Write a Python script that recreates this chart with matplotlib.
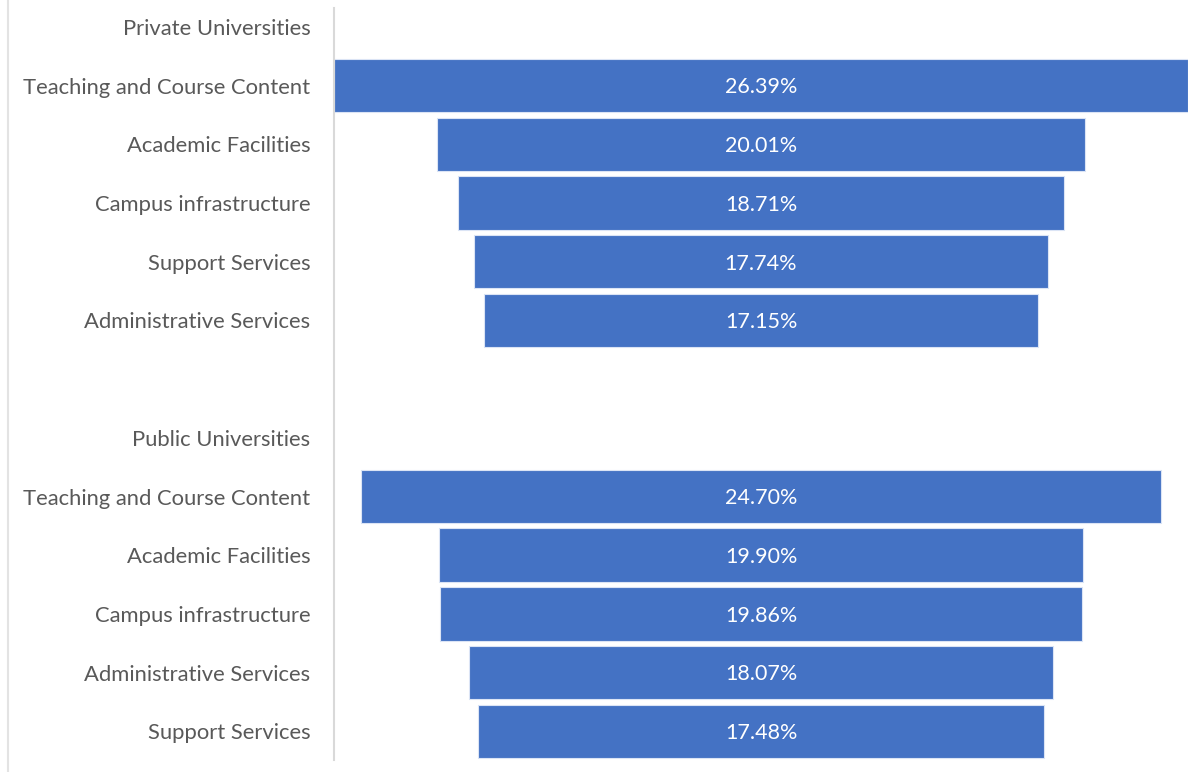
import matplotlib.pyplot as plt
from matplotlib.lines import Line2D

# rows from top to bottom, None = no bar
labels = ["Private Universities",
          "Teaching and Course Content", "Academic Facilities", "Campus infrastructure",
          "Support Services", "Administrative Services",
          "",
          "Public Universities",
          "Teaching and Course Content", "Academic Facilities", "Campus infrastructure",
          "Administrative Services", "Support Services"]
values = [None, 26.39, 20.01, 18.71, 17.74, 17.15,
          None,
          None, 24.70, 19.90, 19.86, 18.07, 17.48]

plt.rcParams['font.family'] = ['Lato', 'DejaVu Sans']

W, H = 1199, 772
fig = plt.figure(figsize=(W / 100, H / 100), dpi=100)
ax = fig.add_axes([334 / W, 1 - 760 / H, (1188 - 334) / W, (760 - 8) / H])

vmax = max(v for v in values if v is not None)
rows = list(range(len(labels)))
for i, v in zip(rows, values):
    if v is None:
        continue
    ax.barh(i, v, left=-v / 2, height=0.91, color='#4472C4',
            edgecolor='#dbe4f5', linewidth=0.8)
    ax.text(0, i + 0.03, f"{v:.2f}%", ha='center', va='center', color='white', fontsize=15.5)

ax.set_xlim(-vmax / 2, vmax / 2)
ax.set_ylim(12.49, -0.324)
ax.set_yticks(rows)
ax.set_yticklabels(labels, fontsize=15.8, color='#595959')
ax.tick_params(axis='y', length=0, pad=17)
ax.set_xticks([])
for s in ['top', 'right', 'bottom']:
    ax.spines[s].set_visible(False)
ax.spines['left'].set_color('#d9d9d9')
ax.spines['left'].set_linewidth(1.5)

fig.add_artist(Line2D([7.5 / W, 7.5 / W], [0, 1], color='#e3e3e3', linewidth=1.5))

fig.savefig('out.png', dpi=100)
